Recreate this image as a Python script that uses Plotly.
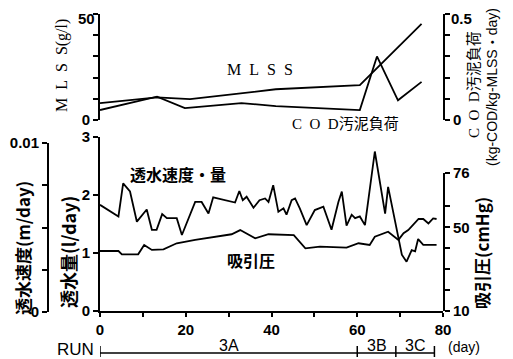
import plotly.graph_objects as go

# ---------------- data ----------------
# top panel
days_mlss = [0, 13.3, 21.0, 41.0, 60.6, 75.0]
mlss = [8.0, 10.7, 9.8, 14.5, 16.4, 45.3]                      # g/l
days_cod = [0, 13.3, 19.8, 33.0, 41.0, 60.6, 64.6, 69.5, 75.0]
cod_load = [0.047, 0.11, 0.056, 0.08, 0.065, 0.047, 0.30, 0.093, 0.18]  # kg-COD/kg-MLSS.day

# bottom panel
days_q = [0, 4.3, 5.4, 7.0, 8.6, 10.9, 12.1, 13.2, 14.5, 15.6, 17.9, 19.1,
          22.2, 23.7, 25.3, 26.4, 31.5, 32.5, 33.3, 34.2, 35.8, 37.2, 38.5,
          39.3, 40.4, 41.6, 42.8, 43.5, 44.7, 45.5, 46.6, 48.2, 50.1, 52.1,
          54.0, 55.6, 56.4, 57.5, 58.7, 59.5, 60.6, 61.8, 64.1, 66.5, 67.2,
          69.6, 70.4, 71.5, 72.7, 73.5, 74.2, 75.4, 78.5]
flux_l = [1.83, 1.63, 2.20, 2.06, 1.54, 1.75, 1.40, 1.40, 1.67, 1.60, 1.60, 1.31,
          1.88, 1.88, 1.68, 1.96, 1.87, 2.07, 1.91, 1.97, 1.78, 1.91, 1.94,
          1.88, 2.17, 1.71, 1.77, 1.66, 1.91, 1.94, 1.77, 1.48, 1.74, 1.80,
          1.40, 1.88, 2.06, 1.47, 1.66, 1.60, 1.63, 1.48, 2.75, 1.68, 2.14,
          1.22, 0.97, 0.85, 1.05, 1.03, 1.24, 1.14, 1.14]      # l/day
days_p = [0, 4.3, 5.1, 8.9, 10.3, 12.1, 14.8, 17.9, 22.2, 30.7, 32.7, 36.2,
          39.3, 45.2, 47.9, 51.3, 57.5, 60.3, 62.9, 64.1, 67.2, 69.6, 70.8,
          71.9, 74.3, 75.4, 76.6, 77.7, 78.5]
suction = [38.7, 38.7, 37.1, 37.1, 41.6, 39.2, 39.5, 42.4, 44.0, 46.7, 48.7, 44.8,
           46.7, 46.3, 40.0, 40.8, 40.3, 42.4, 41.6, 45.5, 47.9, 44.0, 47.2,
           48.7, 54.0, 54.0, 51.9, 54.3, 54.0]                  # cmHg
velocity_per_l = 0.01 / 2.9      # m/day per l/day (membrane area scale)

mlss_max, cod_max = 50, 0.5
run_names = ["3A", "3B", "3C"]
run_bounds = [0, 60, 69, 78]

# the page places the figure 8 px in from the window's top-left corner
OFF = 8
W, H = 513 - OFF, 359 - OFF
def px(x):
    return (x - OFF) / W
def py(y):
    return 1 - (y - OFF) / H

BLACK = "black"
SANS = "Liberation Sans, Arial, sans-serif"
NUM_FONT = dict(family=SANS, size=15, color=BLACK, weight="bold")
JP = "Noto Sans CJK JP, sans-serif"
SERIF = "Liberation Serif, Noto Sans CJK JP, serif"

fig = go.Figure()

line = dict(color=BLACK, width=1.8)
fig.add_trace(go.Scatter(x=days_mlss, y=mlss, mode="lines", line=line,
                         xaxis="x", yaxis="y3", name="MLSS"))
fig.add_trace(go.Scatter(x=days_cod, y=cod_load, mode="lines", line=line,
                         xaxis="x", yaxis="y4", name="COD"))
fig.add_trace(go.Scatter(x=days_q, y=flux_l, mode="lines", line=line,
                         xaxis="x", yaxis="y", name="flux"))
fig.add_trace(go.Scatter(x=days_p, y=suction, mode="lines", line=line,
                         xaxis="x", yaxis="y2", name="suction"))
fig.add_trace(go.Scatter(x=days_q, y=[q * velocity_per_l for q in flux_l],
                         mode="lines", line=dict(color="rgba(0,0,0,0)", width=0),
                         xaxis="x", yaxis="y5", name="velocity", hoverinfo="skip"))

axis_common = dict(showgrid=False, zeroline=False, showline=True, linecolor=BLACK,
                   linewidth=2, ticks="outside", ticklen=5, tickwidth=2,
                   tickcolor=BLACK, tickfont=NUM_FONT, fixedrange=True,
                   automargin=False, ticklabeloverflow="allow")

fig.update_layout(
    width=W, height=H, margin=dict(l=0, r=0, t=0, b=0, autoexpand=False),
    paper_bgcolor="white", plot_bgcolor="rgba(0,0,0,0)", showlegend=False,
    xaxis=dict(axis_common, domain=[px(100), px(443)], range=[0, 80], anchor="y",
               tickvals=[0, 20, 40, 60, 80], ticklen=4,
               minor=dict(tickvals=[10, 30, 50, 70], ticklen=4, tickwidth=2,
                          tickcolor=BLACK, ticks="outside")),
    yaxis=dict(axis_common, domain=[py(311), py(137)], range=[0, 3], anchor="x",
               tickvals=[0, 1, 2, 3], side="left"),
    yaxis2=dict(axis_common, domain=[py(311), py(173)], range=[10, 76], anchor="x",
                side="right", tickvals=[10, 20, 30, 40, 50, 60, 76],
                ticktext=["10", "", "", "", "50", "", "76"]),
    yaxis3=dict(axis_common, domain=[py(120), py(14)], range=[0, mlss_max], anchor="x",
                side="left", tickvals=[0, 10, 20, 30, 40, 50],
                ticktext=["0", "", "", "", "", ""]),
    yaxis4=dict(axis_common, overlaying="y3", range=[0, cod_max], anchor="x",
                side="right", tickvals=[0, 0.1, 0.2, 0.3, 0.4, 0.5],
                ticktext=["0", "", "", "", "", ""]),
    yaxis5=dict(axis_common, domain=[py(312), py(143)], range=[0, 0.01],
                anchor="free", position=px(48), side="left",
                tickvals=[0, 0.0025, 0.005, 0.0075, 0.01],
                ticktext=["0", "", "", "", "0.01"]),
)

# top tick labels of the upper panel, nudged down so they stay inside the page
fig.add_annotation(text=str(mlss_max), x=px(97), y=mlss_max, xref="paper", yref="y3",
                   xanchor="right", yanchor="middle", yshift=-4, showarrow=False,
                   font=NUM_FONT)
fig.add_annotation(text=str(cod_max), x=px(449), y=cod_max, xref="paper", yref="y4",
                   xanchor="left", yanchor="middle", yshift=-4, showarrow=False,
                   font=NUM_FONT)

def ann(text, x, y, size, family, angle=0, xref="paper", weight="normal"):
    fig.add_annotation(text=text, x=x, y=y, xref=xref, yref="paper",
                       showarrow=False, textangle=angle,
                       font=dict(family=family, size=size, color=BLACK, weight=weight),
                       xanchor="center", yanchor="middle")

sp = "\u2002"
# axis titles
ann("M" + sp + "L" + sp + "S" + sp + "S(g/l)", px(62), py(66), 16, SERIF, -90)
ann("C" + sp + "O" + sp + "D汚泥負荷", px(474), py(85), 15, SERIF, -90)
ann("(kg-COD/kg-MLSS・day)", px(492), py(87), 14,
    "Liberation Sans Narrow, Liberation Sans, " + JP, -90)
ann("透水速度(m/day)", px(22), py(248), 17, JP, -90, weight="bold")
ann("透水量(l/day)", px(68), py(252), 18, JP, -90, weight="bold")
ann("吸引圧(cmHg)", px(481), py(253), 17, JP, -90, weight="bold")

# series labels
ann("M" + sp + "L" + sp + "S" + sp + "S", px(260), py(70), 16, SERIF)
ann("C" + sp + "O" + sp + "D汚泥負荷", px(345), py(124), 15, SERIF)
ann("透水速度・量", px(178), py(174), 16, JP, weight="bold")
ann("吸引圧", px(251), py(260), 16, JP, weight="bold")

# run bar
ann("RUN", px(75), py(349), 17, SANS)
ann("(day)", px(464), py(347), 14, SANS)
for i, name in enumerate(run_names):
    mid = (run_bounds[i] + run_bounds[i + 1]) / 2
    ann(name, mid, py(345), 16, SANS, xref="x")

fig.add_shape(type="line", xref="x", yref="paper", x0=run_bounds[0], x1=run_bounds[-1],
              y0=py(353), y1=py(353), line=dict(color=BLACK, width=1.5))
for b in run_bounds:
    fig.add_shape(type="line", xref="x", yref="paper", x0=b, x1=b,
                  y0=py(346), y1=py(357), line=dict(color=BLACK, width=1.5))

fig.write_html("out.html")
